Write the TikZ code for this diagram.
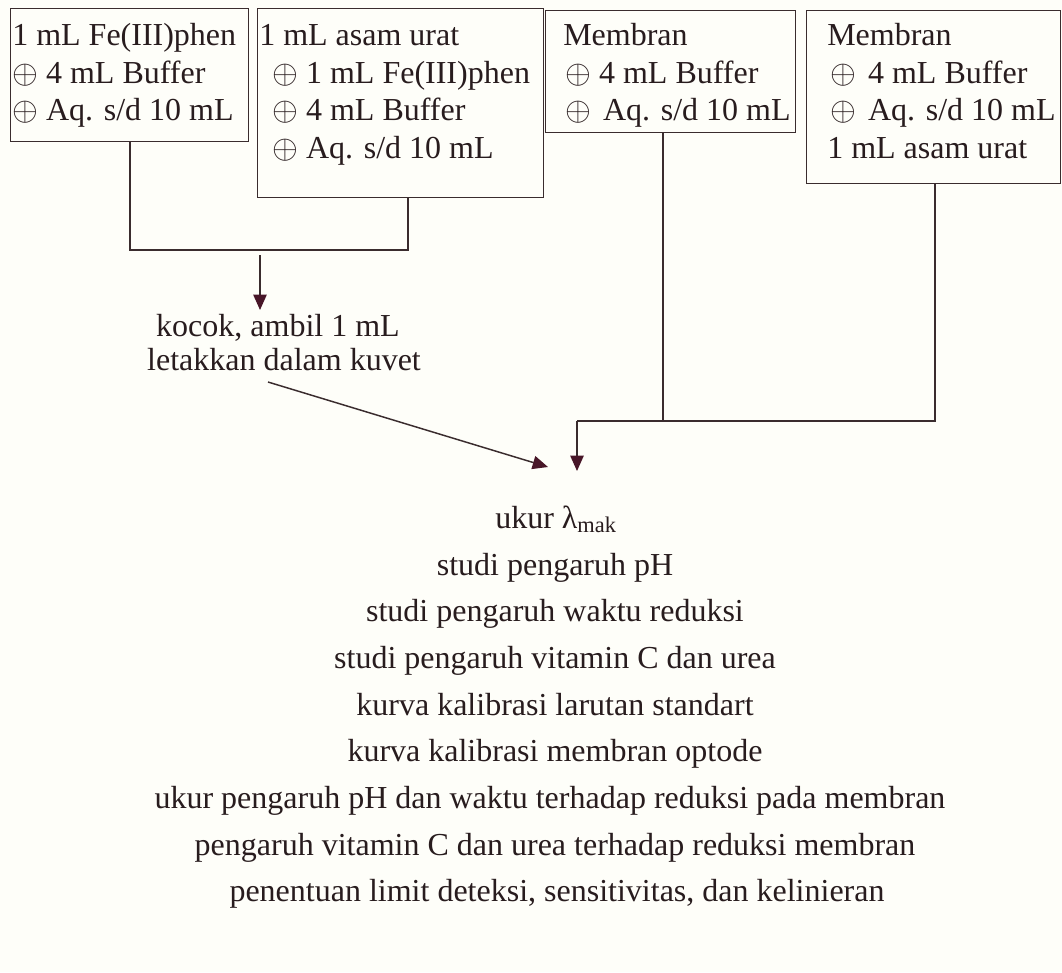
\documentclass[tikz,border=0pt]{standalone}
\usepackage{fontspec}
\setmainfont{Liberation Serif}
\usetikzlibrary{arrows.meta}
\definecolor{textc}{RGB}{40,28,30}
\definecolor{linec}{RGB}{58,44,46}
\definecolor{arrowc}{RGB}{72,22,40}
\definecolor{bgc}{RGB}{254,254,249}
\begin{document}
\begin{tikzpicture}[x=0.75pt,y=-0.75pt,
  boxn/.style={draw=linec,line width=1.1pt,inner sep=0pt,anchor=north west},
  txt/.style={font=\fontsize{24}{28}\selectfont,inner sep=0pt,anchor=base west,text=textc},
  ctxt/.style={font=\fontsize{24}{28}\selectfont,inner sep=0pt,anchor=base,text=textc},
  conn/.style={draw=linec,line width=1.1pt},
  arr/.style={draw=linec,line width=1.1pt,-{Triangle[width=10pt,length=11.5pt,color=arrowc]}}]
\fill[bgc] (0,0) rectangle (1062,972);
\useasboundingbox (0,0) rectangle (1062,972);
% boxes
\node[boxn,minimum width=178.5pt,minimum height=99.75pt] (b1) at (10,8) {};
\node[boxn,minimum width=214.5pt,minimum height=141.75pt] (b2) at (257,8) {};
\node[boxn,minimum width=187.5pt,minimum height=91.5pt] (b3) at (545,10) {};
\node[boxn,minimum width=190.5pt,minimum height=129.75pt] (b4) at (806,10) {};
% box texts
\node[txt] (t11) at (12,45) {1 mL Fe(III)phen};
\node[txt] (t12) at (12,83) {$\oplus$ 4 mL Buffer};
\node[txt] (t13) at (12,120) {$\oplus$ Aq. s/d 10 mL};
\node[txt] (t21) at (259,45) {1 mL asam urat};
\node[txt] (t22) at (272,83) {$\oplus$ 1 mL Fe(III)phen};
\node[txt] (t23) at (272,120) {$\oplus$ 4 mL Buffer};
\node[txt] (t24) at (272,158) {$\oplus$ Aq. s/d 10 mL};
\node[txt] (t31) at (563,45) {Membran};
\node[txt] (t32) at (565,83) {$\oplus$ 4 mL Buffer};
\node[txt] (t33) at (565,120) {$\oplus$\hspace{9pt}Aq. s/d 10 mL};
\node[txt] (t41) at (827,45) {Membran};
\node[txt] (t42) at (830,83) {$\oplus$\hspace{9pt}4 mL Buffer};
\node[txt] (t43) at (830,120) {$\oplus$\hspace{9pt}Aq. s/d 10 mL};
\node[txt] (t44) at (827,158) {1 mL asam urat};
% middle texts
\node[ctxt] (k1) at (278,336) {kocok, ambil 1 mL};
\node[ctxt] (k2) at (284,370) {letakkan dalam kuvet};
% bottom list
\node[ctxt] (s1) at (556,528) {ukur λ\textsubscript{mak}};
\node[ctxt] (s2) at (555,575) {studi pengaruh pH};
\node[ctxt] (s3) at (555,621) {studi pengaruh waktu reduksi};
\node[ctxt] (s4) at (555,668) {studi pengaruh vitamin C dan urea};
\node[ctxt] (s5) at (555,715) {kurva kalibrasi larutan standart};
\node[ctxt] (s6) at (555,761) {kurva kalibrasi membran optode};
\node[ctxt] (s7) at (550,808) {ukur pengaruh pH dan waktu terhadap reduksi pada membran};
\node[ctxt] (s8) at (555,855) {pengaruh vitamin C dan urea terhadap reduksi membran};
\node[ctxt] (s9) at (557,901) {penentuan limit deteksi, sensitivitas, dan kelinieran};
% junction coordinates
\coordinate (j1) at (130,250);
\coordinate (j2) at (408,250);
\coordinate (a1s) at (260,255);
\coordinate (a1e) at (260,310);
\coordinate (ds) at (268,382);
\coordinate (de) at (548,467);
\coordinate (j3) at (663,421);
\coordinate (j4) at (935,421);
\coordinate (j5) at (577,421);
\coordinate (a2e) at (577,471);
% connectors
\draw[conn] (b1.south -| j1) -- (j1) -- (j2) -- (b2.south -| j2);
\draw[arr] (a1s) -- (a1e);
\draw[arr] (ds) -- (de);
\draw[conn] (b3.south -| j3) -- (j3);
\draw[conn] (b4.south -| j4) -- (j4) -- (j5);
\draw[arr] (j5) -- (a2e);
\end{tikzpicture}
\end{document}
